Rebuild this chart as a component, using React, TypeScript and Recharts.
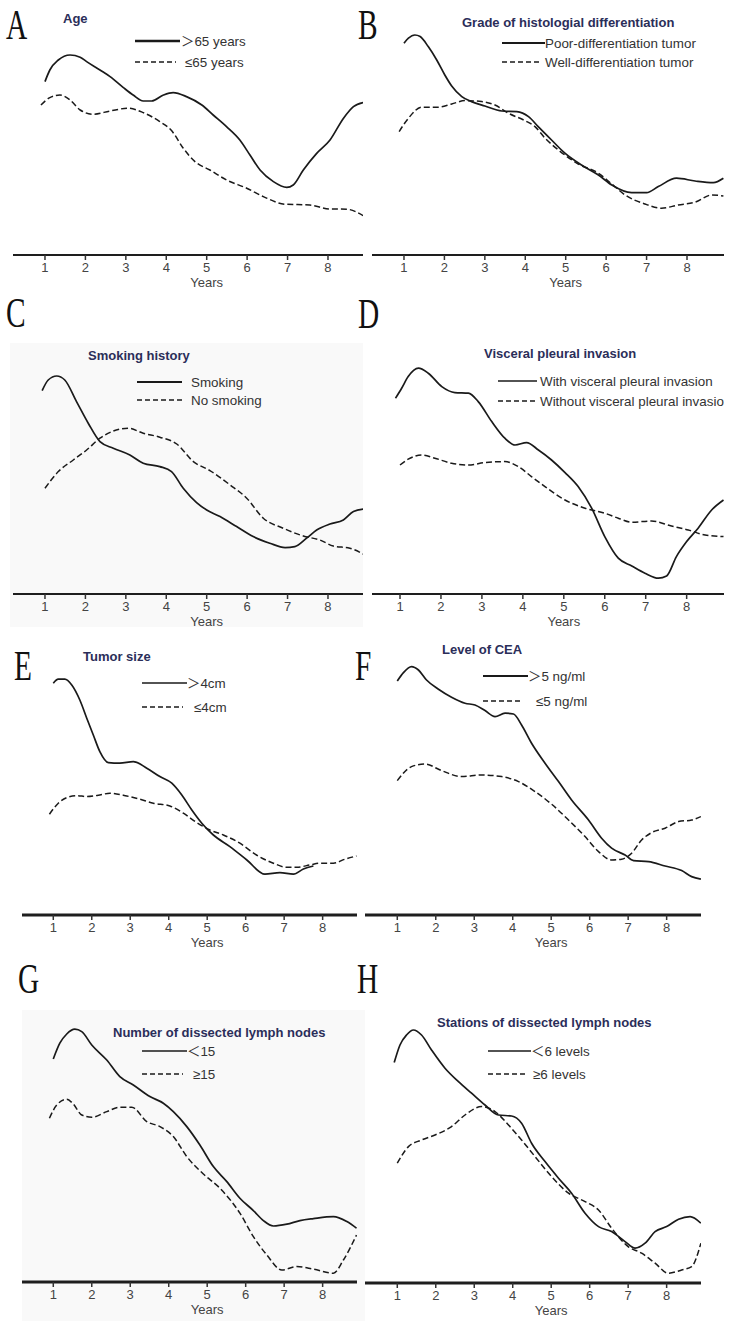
import React from 'react';
import { LineChart, Line, XAxis, YAxis } from 'recharts';

type Pt = [number, number];

const yearTicks = [1, 2, 3, 4, 5, 6, 7, 8];

// A - Age
const ageOver65: Pt[] = [
  [1.0, 86.7], [1.12, 92.5], [1.33, 97.5], [1.62, 100], [1.87, 98.9], [2.03, 96.7], [2.36, 92.5],
  [2.61, 89.2], [2.94, 83.7], [3.18, 80], [3.43, 77], [3.64, 77], [3.93, 80], [4.17, 81.2],
  [4.5, 79.2], [4.88, 75], [5.16, 70], [5.49, 64.2], [5.82, 57.5], [6.07, 50], [6.32, 42.5],
  [6.65, 36.7], [6.98, 33.8], [7.14, 35], [7.39, 42.5], [7.72, 50.8], [8.05, 57.5], [8.38, 68.3],
  [8.63, 74.2], [8.87, 76.2],
];
const ageUnder65: Pt[] = [
  [0.9, 75], [1.12, 78.7], [1.37, 80], [1.62, 77.5], [1.87, 72.5], [2.19, 70.4], [2.61, 72],
  [3.06, 73.4], [3.43, 71.2], [3.84, 66.7], [4.13, 62.2], [4.42, 53.4], [4.71, 46.7], [5.08, 42.5],
  [5.49, 37.5], [5.99, 33.4], [6.4, 29.2], [6.94, 25.4], [7.55, 25], [8.05, 23], [8.46, 22.9],
  [8.87, 19.7],
];

// B - Grade of differentiation
const gradePoor: Pt[] = [
  [1.0, 105.9], [1.11, 108.4], [1.27, 110], [1.4, 109.2], [1.6, 104.2], [1.81, 97.5], [2.01, 90],
  [2.18, 84.5], [2.43, 79.2], [2.67, 76.7], [3.0, 74.5], [3.42, 72], [3.79, 71.7], [4.08, 69.2],
  [4.32, 64.2], [4.65, 57.5], [4.98, 50.9], [5.39, 45], [5.81, 40], [6.14, 35], [6.63, 31.2],
  [7.0, 31.2], [7.29, 34.2], [7.74, 38.4], [8.2, 37], [8.65, 36.2], [8.9, 38.4],
];
const gradeWell: Pt[] = [
  [0.88, 61.7], [1.11, 68.4], [1.44, 73.9], [1.85, 73.9], [2.18, 75.5], [2.51, 77.2], [2.92, 76.7],
  [3.25, 75], [3.58, 70.9], [3.99, 67.2], [4.24, 64.2], [4.49, 58.4], [4.82, 52.5], [5.31, 45.5],
  [5.81, 40.9], [6.14, 35.5], [6.47, 30], [6.96, 25.5], [7.37, 23.4], [7.78, 25], [8.2, 26.4],
  [8.61, 30], [8.9, 29.5],
];

// C - Smoking history
const smokingYes: Pt[] = [
  [0.93, 101.7], [1.08, 107], [1.29, 109], [1.49, 107], [1.78, 96.2], [2.07, 85.4], [2.36, 76.2],
  [2.69, 72.9], [3.1, 69.5], [3.43, 65.4], [3.84, 63.7], [4.13, 61.2], [4.42, 52.9], [4.75, 45.7],
  [5.0, 42], [5.33, 38.7], [5.74, 33.7], [6.15, 28.7], [6.56, 25.4], [6.94, 23.2], [7.18, 23.7],
  [7.47, 27.9], [7.72, 32], [8.05, 35], [8.38, 37], [8.63, 41.2], [8.87, 42.4],
];
const smokingNo: Pt[] = [
  [1.0, 52.9], [1.33, 61.2], [1.7, 67], [2.03, 72], [2.36, 77.9], [2.69, 81.5], [3.06, 82.9],
  [3.43, 80.4], [3.84, 78.4], [4.26, 75], [4.67, 66.2], [5.08, 61.7], [5.58, 54.5], [5.99, 47.9],
  [6.4, 37.9], [6.89, 32.9], [7.39, 29], [7.8, 27], [8.13, 24], [8.54, 22.9], [8.87, 20],
];

// D - Visceral pleural invasion
const vpiWith: Pt[] = [
  [0.89, 97.9], [1.04, 102.9], [1.2, 108.7], [1.45, 112.9], [1.69, 110.4], [2.02, 103.7],
  [2.34, 100.7], [2.67, 100.4], [2.91, 96.2], [3.24, 86.2], [3.56, 77.9], [3.81, 74.5],
  [4.09, 75.7], [4.38, 72], [4.7, 67], [5.03, 60.7], [5.35, 53.7], [5.68, 42.9], [6.0, 28.7],
  [6.33, 17.9], [6.66, 14], [6.98, 10.4], [7.31, 7.9], [7.51, 9], [7.75, 18.7], [8.0, 26.2],
  [8.28, 32.9], [8.61, 42], [8.9, 47],
];
const vpiWithout: Pt[] = [
  [1.0, 64.5], [1.2, 67.4], [1.53, 69.5], [1.85, 67.9], [2.26, 65.4], [2.67, 64.5], [3.07, 65.7],
  [3.56, 66.2], [3.89, 63.7], [4.21, 58.7], [4.54, 53.7], [5.03, 47], [5.52, 42.9], [6.0, 40.4],
  [6.33, 37.9], [6.66, 35.9], [7.14, 36.5], [7.63, 34], [8.04, 32], [8.45, 29.5], [8.9, 28.7],
];

// E - Tumor size
const sizeOver4: Pt[] = [
  [1.0, 115.9], [1.13, 117.9], [1.3, 117.9], [1.48, 115], [1.69, 107.5], [1.87, 98.4], [2.04, 90],
  [2.21, 81.7], [2.43, 76.2], [2.73, 75.9], [3.08, 76.7], [3.43, 73.4], [3.77, 69.2], [4.08, 65.9],
  [4.34, 60], [4.6, 52.5], [4.86, 45.9], [5.16, 40], [5.59, 34.2], [6.03, 27.5], [6.5, 20.4],
  [6.89, 21.2], [7.24, 20.4], [7.5, 23], [7.76, 24.5],
];
const sizeUnder4: Pt[] = [
  [0.9, 50.4], [1.13, 55.9], [1.35, 58.7], [1.61, 59.7], [1.87, 59.2], [2.21, 60], [2.47, 60.9],
  [2.91, 59.5], [3.25, 57.9], [3.6, 55.9], [4.03, 54.5], [4.38, 50.9], [4.73, 46.2], [5.07, 42.5],
  [5.42, 40], [5.85, 35.9], [6.28, 30], [6.72, 25.9], [7.06, 23.9], [7.33, 23.9], [7.67, 25],
  [7.93, 25.9], [8.28, 25.9], [8.58, 27.9], [8.88, 29.5],
];

// F - Level of CEA
const ceaOver5: Pt[] = [
  [1.0, 117], [1.16, 121.2], [1.37, 124.2], [1.55, 122.5], [1.76, 117.5], [2.07, 112.9],
  [2.41, 108.9], [2.76, 105.9], [3.02, 105], [3.28, 102.2], [3.54, 99.2], [3.8, 100.9],
  [4.02, 100.5], [4.23, 95], [4.49, 85.9], [4.84, 75.9], [5.19, 66.7], [5.53, 57.5], [5.97, 47.5],
  [6.31, 38.4], [6.57, 33.4], [6.92, 30], [7.14, 27.2], [7.53, 26.7], [7.96, 24.5], [8.39, 22.2],
  [8.65, 19.2], [8.89, 17.9],
];
const ceaUnder5: Pt[] = [
  [1.0, 67.2], [1.37, 74.2], [1.72, 75.5], [2.15, 72.2], [2.67, 69.2], [3.19, 70], [3.71, 69.2],
  [4.15, 66.7], [4.58, 61.7], [5.01, 55.4], [5.45, 47.5], [5.88, 39.2], [6.23, 31.7], [6.57, 27.5],
  [6.83, 27.9], [7.09, 30.9], [7.35, 37.5], [7.61, 41.2], [7.96, 43.4], [8.31, 46.7], [8.65, 47.5],
  [8.89, 49.2],
];

// G - Number of dissected lymph nodes
const nodesUnder15: Pt[] = [
  [1.0, 111.5], [1.17, 119.4], [1.35, 124], [1.56, 126.4], [1.74, 125.2], [2.0, 118.5], [2.39, 111],
  [2.73, 102.7], [3.08, 98.5], [3.51, 92.7], [3.86, 89.4], [4.12, 85.2], [4.47, 77.7], [4.81, 68.5],
  [5.16, 57.7], [5.51, 50.2], [5.85, 41.9], [6.2, 35.7], [6.46, 30.7], [6.72, 28], [7.07, 28.9],
  [7.41, 30.7], [7.76, 31.7], [8.28, 32.7], [8.63, 30.2], [8.88, 26.9],
];
const nodesOver15: Pt[] = [
  [0.9, 81.9], [1.09, 88.5], [1.35, 91.4], [1.52, 89], [1.74, 83.5], [2.0, 82.4], [2.39, 85.2],
  [2.73, 87.4], [3.04, 87.4], [3.43, 80.2], [3.77, 77.7], [4.12, 72.7], [4.47, 62.7], [4.9, 54],
  [5.33, 46.9], [5.85, 34.4], [6.2, 22.7], [6.55, 13.5], [6.94, 6], [7.33, 7.7], [7.76, 6.4],
  [8.28, 4.4], [8.54, 11], [8.88, 23.5],
];

// H - Stations of dissected lymph nodes
const stationsUnder6: Pt[] = [
  [0.92, 110.2], [1.07, 119], [1.24, 124], [1.42, 126.5], [1.63, 124], [1.89, 116.5], [2.24, 107.4],
  [2.59, 100.7], [2.93, 94.9], [3.28, 89], [3.63, 84], [3.97, 83.5], [4.23, 79.9], [4.49, 69.9],
  [4.84, 60.7], [5.19, 52.4], [5.53, 44.9], [5.88, 34.9], [6.23, 28.2], [6.57, 25.7], [6.92, 20.7],
  [7.18, 17.4], [7.44, 19.9], [7.7, 25.7], [8.0, 28.2], [8.31, 31.9], [8.61, 33.2], [8.89, 29.9],
];
const stationsOver6: Pt[] = [
  [1.0, 59.9], [1.29, 68.2], [1.63, 71.5], [1.98, 74], [2.41, 78.2], [2.76, 84], [3.19, 88.2],
  [3.54, 85.7], [3.89, 79], [4.23, 71.5], [4.58, 63.2], [5.01, 53.2], [5.45, 44.9], [5.88, 40.7],
  [6.23, 36.5], [6.57, 27.4], [7.0, 18.2], [7.35, 14.9], [7.7, 9.9], [8.04, 4.9], [8.39, 6.5],
  [8.65, 8.2], [8.89, 19.9],
];

const panelLetters = ['A', 'B', 'C', 'D', 'E', 'F', 'G', 'H'];
const panelTitles = [
  'Age',
  'Grade of histologial differentiation',
  'Smoking history',
  'Visceral pleural invasion',
  'Tumor size',
  'Level of CEA',
  'Number of dissected lymph nodes',
  'Stations of dissected lymph nodes',
];
const legendLabels: [string, string][] = [
  ['＞65 years', '≤65 years'],
  ['Poor-differentiation tumor', 'Well-differentiation tumor'],
  ['Smoking', 'No smoking'],
  ['With visceral pleural invasion', 'Without visceral pleural invasion'],
  ['＞4cm', '≤4cm'],
  ['＞5 ng/ml', '≤5 ng/ml'],
  ['＜15', '≥15'],
  ['＜6 levels', '≥6 levels'],
];
const solidSeries = [ageOver65, gradePoor, smokingYes, vpiWith, sizeOver4, ceaOver5, nodesUnder15, stationsUnder6];
const dashedSeries = [ageUnder65, gradeWell, smokingNo, vpiWithout, sizeUnder4, ceaUnder5, nodesOver15, stationsOver6];

const SANS = '"Liberation Sans", Arial, "Noto Sans CJK SC", sans-serif';
const PLOT_H = 260;
const Y_MAX = 130;

// layout of each panel on the page
const layout = [
  { left: 13, width: 350, axisY: 255, lo: 0.209, hi: 8.866, axisW: 2, letter: [6, 39], title: [63, 18], leg: [135, 180, 41, 181, 176, 62, 185], legW: 2.6 },
  { left: 372, width: 352, axisY: 255, lo: 0.209, hi: 8.915, axisW: 2, letter: [358, 39], title: [462, 22], leg: [502, 545, 43, 545, 541, 62, 545], legW: 1.8 },
  { left: 13, width: 350, axisY: 594, lo: 0.209, hi: 8.866, axisW: 2, letter: [6, 327], title: [88, 355], leg: [137, 182, 382, 191, 182, 400, 191], legW: 1.8 },
  { left: 372, width: 352, axisY: 594, lo: 0.316, hi: 8.912, axisW: 2, letter: [358, 328], title: [484, 353], leg: [498, 537, 381, 540, 537, 401, 540], legW: 1.6 },
  { left: 22, width: 335, axisY: 915, lo: 0.187, hi: 8.893, axisW: 3, letter: [14, 680], title: [83, 656], leg: [142, 187, 683, 187, 183, 707, 194], legW: 1.6 },
  { left: 365, width: 336, axisY: 915, lo: 0.161, hi: 8.893, axisW: 3, letter: [355, 680], title: [442, 649], leg: [483, 528, 676, 528, 522, 701, 536], legW: 2.2 },
  { left: 22, width: 335, axisY: 1282, lo: 0.187, hi: 8.893, axisW: 3, letter: [18, 993], title: [113, 1032], leg: [142, 187, 1051, 187, 183, 1074, 193], legW: 1.6 },
  { left: 365, width: 336, axisY: 1283, lo: 0.161, hi: 8.893, axisW: 3, letter: [357, 993], title: [437, 1022], leg: [488, 531, 1051, 531, 526, 1074, 533], legW: 1.6 },
];

const toRows = (pts: Pt[]) => pts.map(([year, v]) => ({ year, v }));

const SurvivalPanel = ({ i }: { i: number }) => {
  const L = layout[i];
  return (
    <div style={{ position: 'absolute', left: L.left, top: L.axisY - PLOT_H }}>
      <LineChart width={L.width} height={PLOT_H + 40} margin={{ top: 0, right: 0, bottom: 0, left: 0 }}>
        <XAxis
          type="number"
          dataKey="year"
          domain={[L.lo, L.hi]}
          allowDataOverflow
          ticks={yearTicks}
          interval={0}
          height={40}
          axisLine={{ stroke: '#1e1e1e', strokeWidth: L.axisW }}
          tickLine={{ stroke: '#333', strokeWidth: 1.5 }}
          tickSize={5}
          tickMargin={3}
          tick={{ fill: '#444', fontSize: 13, fontFamily: SANS }}
          label={{
            content: (lp: any) => {
              const vb = lp.viewBox || {};
              if (vb.width == null) return null;
              const x = vb.x + ((5 - L.lo) / (L.hi - L.lo)) * vb.width;
              return (
                <text x={x} y={vb.y + 32} textAnchor="middle" fontSize={13} fontFamily={SANS} fill="#444">
                  Years
                </text>
              );
            },
          }}
        />
        <YAxis hide domain={[0, Y_MAX]} />
        <Line
          data={toRows(solidSeries[i])}
          dataKey="v"
          type="monotone"
          stroke="#1a1a1a"
          strokeWidth={1.7}
          dot={false}
          activeDot={false}
          isAnimationActive={false}
        />
        <Line
          data={toRows(dashedSeries[i])}
          dataKey="v"
          type="monotone"
          stroke="#1a1a1a"
          strokeWidth={1.5}
          strokeDasharray="6 3"
          dot={false}
          activeDot={false}
          isAnimationActive={false}
        />
      </LineChart>
    </div>
  );
};

const Decorations = () => (
  <svg width={730} height={1321} style={{ position: 'absolute', left: 0, top: 0 }}>
    <defs>
      <clipPath id="pageClip">
        <rect x={0} y={0} width={724} height={1321} />
      </clipPath>
    </defs>
    <rect x={10} y={343} width={353} height={284} fill="#f9f9f9" />
    <rect x={22} y={1010} width={343} height={311} fill="#f9f9f9" />
    {layout.map((L, i) => {
      const [x1, x2, y1, t1, x2b, y2, t2] = L.leg;
      return (
        <g key={i} clipPath="url(#pageClip)">
          <text
            transform={`translate(${L.letter[0]},${L.letter[1]}) scale(0.7,1)`}
            fontFamily='"Liberation Serif", "DejaVu Serif", serif'
            fontSize={42}
            fill="#111"
          >
            {panelLetters[i]}
          </text>
          <text x={L.title[0]} y={L.title[1] + 4.5} fontFamily={SANS} fontSize={13} fontWeight="bold" fill="#2b2e59">
            {panelTitles[i]}
          </text>
          <line x1={x1} x2={x2} y1={y1} y2={y1} stroke="#1a1a1a" strokeWidth={L.legW} />
          <text x={t1} y={y1 + 4.6} fontFamily={SANS} fontSize={13.4} fill="#333">
            {legendLabels[i][0]}
          </text>
          <line x1={x1} x2={x2b} y1={y2} y2={y2} stroke="#1a1a1a" strokeWidth={1.6} strokeDasharray="5 3" />
          <text x={t2} y={y2 + 4.6} fontFamily={SANS} fontSize={13.4} fill="#333">
            {legendLabels[i][1]}
          </text>
        </g>
      );
    })}
  </svg>
);

const App = () => (
  <div style={{ position: 'absolute', left: 0, top: 0, width: 730, height: 1321, background: '#fff', overflow: 'hidden' }}>
    <Decorations />
    {layout.map((_, i) => (
      <SurvivalPanel key={i} i={i} />
    ))}
  </div>
);

export default App;
